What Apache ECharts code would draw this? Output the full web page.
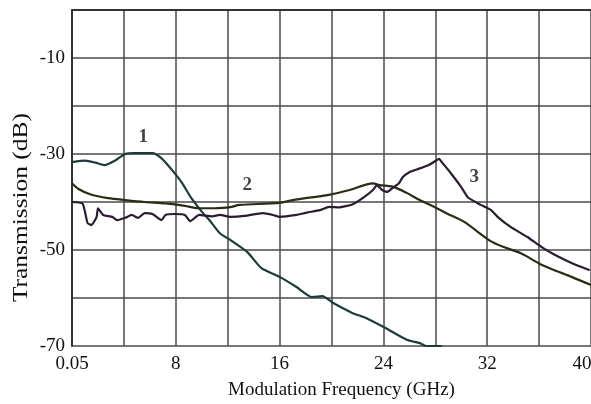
<!DOCTYPE html>
<html>
<head>
<meta charset="utf-8">
<script src="https://cdn.jsdelivr.net/npm/echarts@6/dist/echarts.min.js"></script>
<style>
html,body{margin:0;padding:0;background:#fff;}
#chart{width:591px;height:404px;}
</style>
</head>
<body>
<div id="chart"></div>
<script>
// X ticks (GHz) and their printed labels
var xTickValues = [0, 8, 16, 24, 32, 40];
var xTickLabels = ['0.05', '8', '16', '24', '32', '40'];
var yTickValues = [-10, -30, -50, -70];
var yTickLabels = ['-10', '-30', '-50', '-70'];

// Curve 1
var freq1 = [0, 1, 1.8, 2.5, 3.3, 4.1, 4.8, 6.2, 6.9, 7.7, 8.5, 9.2, 10, 10.6, 11.4, 12.2, 13.5, 14.6, 16, 17.3, 18.5, 19.3, 20.1, 21.6, 22.7, 24.2, 25.8, 26.8, 27.3, 28.5];
var trans1 = [-31.7, -31.4, -31.8, -32.3, -31.4, -30.0, -29.8, -29.8, -30.9, -33.3, -36.1, -39.2, -42, -43.8, -46.5, -47.9, -50.4, -53.8, -55.6, -57.7, -59.8, -59.6, -61, -63.1, -64.2, -66.3, -68.7, -69.4, -70, -70];

// Curve 2
var freq2 = [0, 0.5, 1.5, 2.8, 4.1, 5.6, 7.2, 8.7, 9.7, 11, 12.3, 12.9, 16, 17, 19.8, 21.4, 23.2, 23.7, 24.7, 25.8, 26.8, 27.9, 28.9, 30.2, 32.3, 33.5, 34.6, 36, 37, 38.5, 40];
var trans2 = [-36.1, -37.3, -38.5, -39.2, -39.6, -40, -40.3, -40.8, -41.3, -41.3, -41, -40.6, -40.2, -39.6, -38.5, -37.5, -36.1, -36.5, -36.8, -38.1, -39.6, -41, -42.4, -44.1, -48.2, -49.6, -50.7, -52.8, -54, -55.6, -57.3];

// Curve 3
var freq3 = [0, 0.8, 1, 1.2, 1.5, 1.9, 2, 2.4, 3.1, 3.5, 4.1, 4.6, 5.1, 5.6, 6.2, 6.9, 7.2, 7.9, 8.7, 9.1, 9.8, 10.8, 11.4, 12.2, 13.3, 14.7, 15.5, 16, 17.3, 18.1, 19.1, 19.8, 20.6, 21.6, 22.4, 23.2, 23.5, 23.9, 24.3, 24.7, 25.2, 25.5, 26, 26.5, 27.5, 28.1, 28.3, 28.5, 29.2, 30, 30.5, 31.5, 32.3, 32.8, 33.8, 35.1, 36.2, 37.2, 38.5, 39.9];
var trans3 = [-40, -40.3, -42, -44.4, -44.8, -43.1, -41.3, -42.7, -43.1, -43.8, -43.3, -42.7, -43.3, -42.3, -42.5, -43.8, -42.7, -42.5, -42.7, -44, -42.7, -43, -42.7, -43.1, -42.9, -42.3, -42.7, -43.1, -42.7, -42.2, -41.7, -41, -41.1, -40.5, -39.2, -37.5, -36.5, -37.5, -37.9, -37.1, -36.1, -34.8, -33.8, -33.3, -32.3, -31.3, -31, -31.7, -34, -36.9, -39, -40.6, -41.7, -43.1, -45.2, -47.3, -49.4, -51, -52.7, -54.2];

// Curve annotation labels
var curveNames = ['1', '2', '3'];
var curveLabelFreq = [5.5, 13.5, 31];
var curveLabelTrans = [-26.5, -36.5, -34.8];

function pairs(xs, ys) { return xs.map(function (x, i) { return [x, ys[i]]; }); }

var serif = '"Liberation Serif", "DejaVu Serif", serif';
var gridColor = '#4a4a4a';

var chart = echarts.init(document.getElementById('chart'));
chart.setOption({
  animation: false,
  backgroundColor: '#ffffff',
  grid: { left: 72, right: 0, top: 10, bottom: 58, containLabel: false, outerBoundsMode: 'none' },
  xAxis: {
    type: 'value', min: 0, max: 40, interval: 4,
    axisLine: { show: true, lineStyle: { color: '#333', width: 2 } },
    axisTick: { show: false },
    splitLine: { show: true, lineStyle: { color: gridColor, width: 1.5 } },
    axisLabel: {
      margin: 9, color: '#111', fontFamily: serif, fontSize: 19,
      showMaxLabel: true, showMinLabel: true, hideOverlap: false,
      formatter: function (v) {
        var i = xTickValues.indexOf(v);
        if (i < 0) return '';
        return i === xTickValues.length - 1 ? '{last|' + xTickLabels[i] + '}' : xTickLabels[i];
      },
      rich: {
        last: { fontFamily: serif, fontSize: 19, color: '#111', padding: [0, 18, 0, 0] }
      }
    }
  },
  yAxis: {
    type: 'value', min: -70, max: 0, interval: 10,
    axisLine: { show: true, lineStyle: { color: '#333', width: 2 } },
    axisTick: { show: false },
    splitLine: { show: true, lineStyle: { color: gridColor, width: 1.5 } },
    axisLabel: {
      margin: 7, color: '#111', fontFamily: serif, fontSize: 19,
      formatter: function (v) {
        var i = yTickValues.indexOf(v);
        return i >= 0 ? yTickLabels[i] : '';
      }
    }
  },
  graphic: [
    {
      type: 'text', left: 228, top: 381,
      style: { text: 'Modulation Frequency (GHz)', font: '19px ' + serif, fill: '#111' }
    },
    {
      type: 'text', x: 12, y: 302, rotation: Math.PI / 2, scaleX: 1.27,
      style: { text: 'Transmission (dB)', font: '20px ' + serif, fill: '#111' }
    }
  ],
  series: [
    { type: 'line', data: pairs(freq1, trans1), showSymbol: false, smooth: 0.2, clip: true,
      lineStyle: { color: '#1d3b3b', width: 2.2 } },
    { type: 'line', data: pairs(freq2, trans2), showSymbol: false, smooth: 0.3, clip: true,
      lineStyle: { color: '#2b2b16', width: 2.2 } },
    { type: 'line', data: pairs(freq3, trans3), showSymbol: false, smooth: 0.15, clip: true,
      lineStyle: { color: '#2c1c32', width: 2.2 } },
    { type: 'scatter', symbolSize: 0, silent: true,
      data: curveNames.map(function (n, i) { return { value: [curveLabelFreq[i], curveLabelTrans[i]], name: n }; }),
      label: { show: true, position: 'inside', formatter: '{b}', color: '#111',
               fontFamily: serif, fontSize: 19, fontWeight: 'bold' } }
  ]
});
</script>
</body>
</html>
